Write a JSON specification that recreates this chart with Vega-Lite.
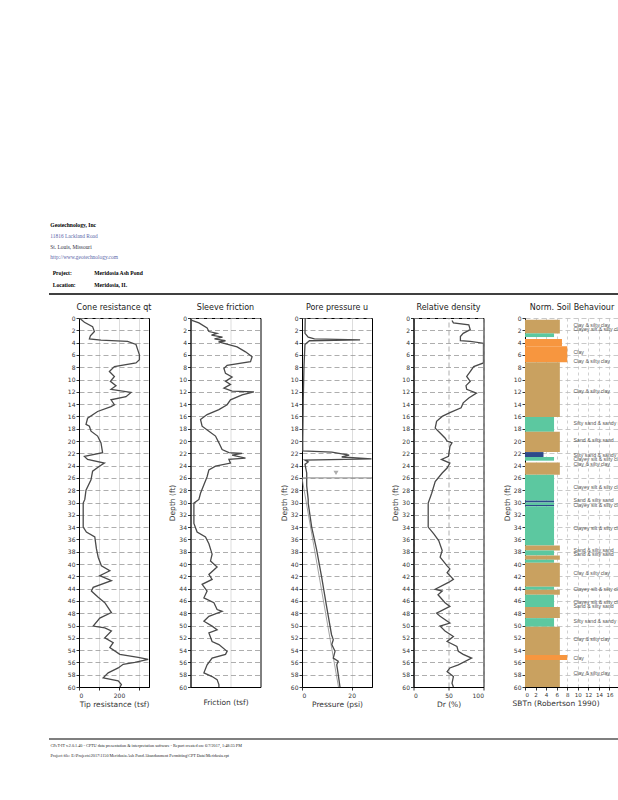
{
  "$schema": "https://vega.github.io/schema/vega-lite/v6.json",
  "padding": {"left": 48, "top": 220, "right": 0, "bottom": 0},
  "background": "white",
  "bounds": "flush",
  "spacing": 24,
  "resolve": {"scale": {"color": "independent"}},
  "datasets": {
    "header": [
      {"line": 0, "kind": "name", "text": "Geotechnology, Inc"},
      {"line": 1, "kind": "addr", "text": "11816 Lackland Road"},
      {"line": 2, "kind": "city", "text": "St. Louis, Missouri"},
      {"line": 3, "kind": "url", "text": "http://www.geotechnology.com"},
      {"line": 4.5, "kind": "field", "text": "Project:", "value": "Meridosia Ash Pond"},
      {"line": 5.6, "kind": "field", "text": "Location:", "value": "Meridosia, IL"}
    ],
    "footer": [
      {"line": 0, "text": "CPeT-IT v.2.0.1.40 - CPTU data presentation & interpretation software - Report created on: 6/7/2017, 1:48:35 PM"},
      {"line": 1, "text": "Project file: E:\\Projects\\2017\\1150 Meridosia Ash Pond Abandonment Permitting\\CPT Data\\Meridosia.cpt"}
    ],
    "qt": [
      {"d":0,"qt":2},{"d":0.7,"qt":27},{"d":1.4,"qt":68},{"d":2.2,"qt":77},{"d":2.9,"qt":57},{"d":3.4,"qt":52},{"d":3.6,"qt":110},{"d":3.8,"qt":243},{"d":4.3,"qt":285},{"d":5.1,"qt":293},{"d":6.0,"qt":302},{"d":6.8,"qt":302},{"d":7.3,"qt":285},{"d":7.9,"qt":177},{"d":8.7,"qt":152},{"d":9.5,"qt":177},{"d":10.3,"qt":157},{"d":11.0,"qt":185},{"d":11.6,"qt":160},{"d":12.1,"qt":260},{"d":12.8,"qt":235},{"d":13.3,"qt":160},{"d":14.1,"qt":177},{"d":14.4,"qt":160},{"d":15.2,"qt":93},{"d":16.3,"qt":43},{"d":17.3,"qt":35},{"d":17.6,"qt":52},{"d":18.4,"qt":60},{"d":19.2,"qt":93},{"d":20.3,"qt":110},{"d":21.9,"qt":118},{"d":22.5,"qt":27},{"d":23.0,"qt":43},{"d":23.6,"qt":127},{"d":24.1,"qt":102},{"d":24.9,"qt":68},{"d":26.3,"qt":60},{"d":28.0,"qt":35},{"d":29.5,"qt":29},{"d":30.1,"qt":21},{"d":34.0,"qt":21},{"d":34.8,"qt":37},{"d":35.6,"qt":79},{"d":37.5,"qt":87},{"d":38.9,"qt":96},{"d":40.3,"qt":112},{"d":41.1,"qt":154},{"d":41.9,"qt":104},{"d":42.7,"qt":162},{"d":43.8,"qt":71},{"d":44.4,"qt":62},{"d":45.4,"qt":96},{"d":46.3,"qt":129},{"d":47.9,"qt":162},{"d":48.8,"qt":104},{"d":50.1,"qt":71},{"d":50.4,"qt":129},{"d":50.9,"qt":162},{"d":52.0,"qt":129},{"d":52.8,"qt":171},{"d":53.6,"qt":154},{"d":54.7,"qt":204},{"d":55.2,"qt":296},{"d":55.5,"qt":346},{"d":56.0,"qt":279},{"d":56.3,"qt":221},{"d":56.9,"qt":196},{"d":57.7,"qt":146},{"d":58.5,"qt":121},{"d":59.0,"qt":196},{"d":59.6,"qt":212},{"d":60,"qt":205}
    ],
    "fs": [
      {"d":0.3,"fs":0},{"d":0.8,"fs":0.42},{"d":1.6,"fs":0.83},{"d":2.2,"fs":0.92},{"d":2.5,"fs":1.33},{"d":2.8,"fs":1.05},{"d":3.1,"fs":1.6},{"d":3.4,"fs":1.2},{"d":3.7,"fs":1.75},{"d":3.9,"fs":1.4},{"d":4.7,"fs":2.33},{"d":5.5,"fs":2.75},{"d":6.3,"fs":3.08},{"d":7.1,"fs":3.0},{"d":7.7,"fs":1.83},{"d":8.2,"fs":1.67},{"d":9.0,"fs":1.75},{"d":9.6,"fs":2.08},{"d":10.3,"fs":1.75},{"d":10.8,"fs":2.0},{"d":11.4,"fs":1.67},{"d":11.9,"fs":2.08},{"d":12.0,"fs":3.17},{"d":12.5,"fs":2.58},{"d":13.3,"fs":2.0},{"d":14.1,"fs":1.83},{"d":14.9,"fs":1.42},{"d":15.7,"fs":0.83},{"d":16.5,"fs":0.5},{"d":17.6,"fs":0.58},{"d":18.4,"fs":0.92},{"d":19.2,"fs":1.25},{"d":20.3,"fs":1.42},{"d":21.4,"fs":1.58},{"d":21.9,"fs":1.92},{"d":22.0,"fs":2.58},{"d":22.3,"fs":2.08},{"d":22.8,"fs":2.75},{"d":23.0,"fs":1.92},{"d":23.6,"fs":2.0},{"d":24.1,"fs":1.25},{"d":24.7,"fs":0.92},{"d":25.8,"fs":0.83},{"d":27.1,"fs":0.67},{"d":28.5,"fs":0.5},{"d":29.5,"fs":0.42},{"d":30.1,"fs":0.17},{"d":33.4,"fs":0.17},{"d":34.8,"fs":0.33},{"d":35.6,"fs":0.75},{"d":36.7,"fs":0.92},{"d":38.4,"fs":1.08},{"d":39.5,"fs":1.0},{"d":40.5,"fs":1.33},{"d":41.7,"fs":0.92},{"d":42.5,"fs":1.08},{"d":43.3,"fs":0.58},{"d":44.4,"fs":0.83},{"d":45.5,"fs":0.67},{"d":46.3,"fs":1.17},{"d":47.4,"fs":1.33},{"d":47.7,"fs":1.58},{"d":48.5,"fs":0.92},{"d":49.3,"fs":0.67},{"d":50.1,"fs":1.08},{"d":50.7,"fs":1.33},{"d":51.2,"fs":0.92},{"d":52.6,"fs":1.08},{"d":53.1,"fs":1.42},{"d":54.2,"fs":1.83},{"d":54.7,"fs":1.75},{"d":55.3,"fs":1.08},{"d":56.4,"fs":0.83},{"d":57.7,"fs":0.67},{"d":58.3,"fs":1.08},{"d":58.8,"fs":1.33},{"d":59.6,"fs":1.42},{"d":60,"fs":1.42}
    ],
    "u": [
      {"d":0,"u":1.3},{"d":2.5,"u":1.2},{"d":3.1,"u":2.5},{"d":3.4,"u":5},{"d":3.55,"u":23.4},{"d":3.7,"u":3},{"d":4.3,"u":1.2},{"d":7.9,"u":0.8},{"d":13.3,"u":0.5},{"d":19.8,"u":0.3},{"d":21.6,"u":0.3},{"d":21.8,"u":12},{"d":22.3,"u":19},{"d":22.6,"u":16},{"d":22.9,"u":28},{"d":23.1,"u":1.2},{"d":23.4,"u":2.5},{"d":23.8,"u":1.2},{"d":25.2,"u":1.9},{"d":27.3,"u":1.9},{"d":29.5,"u":2.5},{"d":30.1,"u":2.5},{"d":34,"u":3.9},{"d":37.7,"u":5.9},{"d":42.1,"u":7.9},{"d":46.9,"u":9.9},{"d":51.5,"u":11.9},{"d":52.3,"u":12.6},{"d":53.1,"u":12},{"d":54.2,"u":13.3},{"d":55.3,"u":12.6},{"d":55.8,"u":14.6},{"d":56.4,"u":14},{"d":58,"u":14.6},{"d":60,"u":15.3}
    ],
    "u0": [{"d":26,"u":0},{"d":60,"u":14.7}],
    "gwt": [{"d":26,"u":13.7}],
    "dr": [
      {"d":0.4,"dr":55},{"d":0.8,"dr":57},{"d":1.1,"dr":79},{"d":1.9,"dr":81},{"d":2.5,"dr":71},{"d":3.0,"dr":67},{"d":3.7,"dr":67},{"d":3.8,"dr":81},{"d":4.1,"dr":100},{"d":7.3,"dr":100},{"d":7.9,"dr":86},{"d":8.7,"dr":81},{"d":9.5,"dr":76},{"d":10.3,"dr":81},{"d":11.0,"dr":75},{"d":11.6,"dr":76},{"d":12.2,"dr":90},{"d":13.0,"dr":79},{"d":13.8,"dr":71},{"d":14.6,"dr":68},{"d":15.4,"dr":52},{"d":16.0,"dr":41},{"d":16.8,"dr":33},{"d":17.9,"dr":31},{"d":18.7,"dr":38},{"d":19.5,"dr":45},{"d":20.0,"dr":48},{"d":20.3,"dr":55},{"d":20.9,"dr":52},{"d":22.5,"dr":50},{"d":23.0,"dr":40},{"d":23.6,"dr":52},{"d":24.4,"dr":48},{"d":25.2,"dr":41},{"d":26.6,"dr":31},{"d":28.5,"dr":26},{"d":30.1,"dr":21},{"d":34.0,"dr":21},{"d":35.1,"dr":29},{"d":36.2,"dr":36},{"d":37.8,"dr":41},{"d":38.9,"dr":38},{"d":40.3,"dr":48},{"d":40.8,"dr":52},{"d":41.4,"dr":48},{"d":42.5,"dr":57},{"d":43.0,"dr":50},{"d":44.1,"dr":31},{"d":44.4,"dr":41},{"d":45.0,"dr":35},{"d":46.3,"dr":45},{"d":46.9,"dr":52},{"d":48.0,"dr":33},{"d":48.5,"dr":38},{"d":49.6,"dr":52},{"d":50.1,"dr":38},{"d":50.9,"dr":45},{"d":51.8,"dr":57},{"d":52.6,"dr":48},{"d":53.4,"dr":62},{"d":54.2,"dr":64},{"d":54.7,"dr":71},{"d":55.3,"dr":83},{"d":56.4,"dr":64},{"d":56.9,"dr":52},{"d":57.5,"dr":48},{"d":58.3,"dr":57},{"d":59.4,"dr":55},{"d":60,"dr":57}
    ],
    "sbt": [
      {"top":0.3,"bottom":2.5,"soil":"Clay & silty clay","len":6.6},
      {"top":2.5,"bottom":3.1,"soil":"Silty sand & sandy silt","len":5.5},
      {"top":3.4,"bottom":4.6,"soil":"Clay","len":7.0},
      {"top":4.6,"bottom":7.2,"soil":"Clay","len":8.0},
      {"top":7.2,"bottom":16.1,"soil":"Clay & silty clay","len":6.6},
      {"top":16.1,"bottom":18.5,"soil":"Silty sand & sandy silt","len":5.5},
      {"top":18.5,"bottom":21.8,"soil":"Clay & silty clay","len":6.6},
      {"top":21.8,"bottom":22.6,"soil":"Sand & silty sand","len":3.5},
      {"top":22.6,"bottom":23.2,"soil":"Silty sand & sandy silt","len":5.5},
      {"top":23.5,"bottom":25.5,"soil":"Clay & silty clay","len":6.6},
      {"top":25.5,"bottom":29.7,"soil":"Silty sand & sandy silt","len":5.5},
      {"top":29.7,"bottom":30.0,"soil":"Sand & silty sand","len":5.5},
      {"top":30.0,"bottom":30.4,"soil":"Silty sand & sandy silt","len":5.5},
      {"top":30.4,"bottom":30.6,"soil":"Sand & silty sand","len":5.5},
      {"top":30.6,"bottom":37.0,"soil":"Silty sand & sandy silt","len":5.5},
      {"top":37.0,"bottom":37.8,"soil":"Clay & silty clay","len":6.6},
      {"top":37.8,"bottom":38.6,"soil":"Silty sand & sandy silt","len":5.5},
      {"top":38.6,"bottom":39.3,"soil":"Clay & silty clay","len":6.6},
      {"top":39.3,"bottom":39.8,"soil":"Silty sand & sandy silt","len":5.5},
      {"top":39.8,"bottom":43.7,"soil":"Clay & silty clay","len":6.6},
      {"top":43.7,"bottom":44.2,"soil":"Silty sand & sandy silt","len":5.5},
      {"top":44.2,"bottom":45.0,"soil":"Clay & silty clay","len":6.6},
      {"top":45.0,"bottom":47.0,"soil":"Silty sand & sandy silt","len":5.5},
      {"top":47.0,"bottom":48.8,"soil":"Clay & silty clay","len":6.6},
      {"top":48.8,"bottom":50.2,"soil":"Silty sand & sandy silt","len":5.5},
      {"top":50.2,"bottom":54.8,"soil":"Clay & silty clay","len":6.6},
      {"top":54.8,"bottom":55.6,"soil":"Clay","len":8.0},
      {"top":55.6,"bottom":60,"soil":"Clay & silty clay","len":6.6}
    ],
    "sbtlab": [
      {"d":1.1,"label":"Clay & silty clay"},
      {"d":1.8,"label":"Clayey silt & silty clay"},
      {"d":5.6,"label":"Clay"},
      {"d":7.0,"label":"Clay & silty clay"},
      {"d":11.8,"label":"Clay & silty clay"},
      {"d":17.0,"label":"Silty sand & sandy silt"},
      {"d":19.9,"label":"Sand & silty sand"},
      {"d":22.3,"label":"Silty sand & sandy silt"},
      {"d":23.0,"label":"Clayey silt & silty clay"},
      {"d":23.8,"label":"Clay & silty clay"},
      {"d":27.4,"label":"Clayey silt & silty clay"},
      {"d":29.6,"label":"Sand & silty sand"},
      {"d":30.4,"label":"Clayey silt & silty clay"},
      {"d":34.2,"label":"Clayey silt & silty clay"},
      {"d":37.7,"label":"Sand & silty sand"},
      {"d":38.4,"label":"Sand & silty sand"},
      {"d":41.5,"label":"Clay & silty clay"},
      {"d":44.1,"label":"Clayey silt & silty clay"},
      {"d":46.1,"label":"Clayey silt & silty clay"},
      {"d":46.9,"label":"Sand & silty sand"},
      {"d":49.2,"label":"Silty sand & sandy silt"},
      {"d":52.2,"label":"Clay & silty clay"},
      {"d":55.3,"label":"Clay"},
      {"d":57.7,"label":"Clay & silty clay"}
    ]
  },
  "vconcat": [
    {
      "width": 540,
      "height": 74,
      "view": {"stroke": null},
      "data": {"name": "header"},
      "layer": [
        {
          "transform": [{"filter": "datum.kind == 'name'"}],
          "mark": {"type": "text", "align": "left", "baseline": "middle", "font": "Liberation Serif", "fontSize": 5.6, "fontWeight": "bold", "color": "#000"},
          "encoding": {
            "x": {"datum": -28.7, "type": "quantitative", "scale": {"domain": [0, 540], "nice": false, "zero": false}, "axis": null},
            "y": {"field": "line", "type": "quantitative", "scale": {"domain": [-0.5, 6.44], "reverse": true, "nice": false, "zero": false}, "axis": null},
            "text": {"field": "text"}
          }
        },
        {
          "transform": [{"filter": "datum.kind == 'addr' || datum.kind == 'url'"}],
          "mark": {"type": "text", "align": "left", "baseline": "middle", "font": "Liberation Serif", "fontSize": 5.4, "color": "#5a66a8"},
          "encoding": {
            "x": {"datum": -28.7, "type": "quantitative"},
            "y": {"field": "line", "type": "quantitative"},
            "text": {"field": "text"}
          }
        },
        {
          "transform": [{"filter": "datum.kind == 'city'"}],
          "mark": {"type": "text", "align": "left", "baseline": "middle", "font": "Liberation Serif", "fontSize": 5.4, "color": "#333344"},
          "encoding": {
            "x": {"datum": -28.7, "type": "quantitative"},
            "y": {"field": "line", "type": "quantitative"},
            "text": {"field": "text"}
          }
        },
        {
          "transform": [{"filter": "datum.kind == 'field'"}],
          "mark": {"type": "text", "align": "left", "baseline": "middle", "font": "Liberation Serif", "fontSize": 5.6, "fontWeight": "bold", "color": "#000"},
          "encoding": {
            "x": {"datum": -26.3, "type": "quantitative"},
            "y": {"field": "line", "type": "quantitative"},
            "text": {"field": "text"}
          }
        },
        {
          "transform": [{"filter": "datum.kind == 'field'"}],
          "mark": {"type": "text", "align": "left", "baseline": "middle", "font": "Liberation Serif", "fontSize": 5.6, "fontWeight": "bold", "color": "#000"},
          "encoding": {
            "x": {"datum": 15.3, "type": "quantitative"},
            "y": {"field": "line", "type": "quantitative"},
            "text": {"field": "value"}
          }
        },
        {
          "data": {"values": [{"rule": "header"}]},
          "mark": {"type": "rule", "color": "#000", "strokeWidth": 1.5},
          "encoding": {
            "x": {"datum": -30, "type": "quantitative"},
            "x2": {"datum": 540, "type": "quantitative"},
            "y": {"datum": 6.44, "type": "quantitative"}
          }
        }
      ]
    },
    {
      "bounds": "flush",
      "spacing": 41.5,
      "resolve": {"scale": {"color": "independent"}},
      "hconcat": [
        {
          "width": 70,
          "height": 369,
          "title": "Cone resistance qt",
          "data": {"name": "qt"},
          "mark": {"type": "line", "color": "#4a4a4a", "strokeWidth": 1.3, "clip": true},
          "encoding": {
            "x": {"field": "qt", "type": "quantitative", "scale": {"domain": [0, 350], "nice": false}, "axis": {"title": "Tip resistance (tsf)", "values": [0, 100, 200, 300], "labelExpr": "datum.value == 0 || datum.value == 200 ? datum.label : ''"}},
            "y": {"field": "d", "type": "quantitative", "scale": {"domain": [0, 60], "reverse": true, "nice": false}, "axis": {"title": null, "values": [0,2,4,6,8,10,12,14,16,18,20,22,24,26,28,30,32,34,36,38,40,42,44,46,48,50,52,54,56,58,60]}},
            "order": {"field": "d", "type": "quantitative"}
          }
        },
        {
          "width": 70,
          "height": 369,
          "title": "Sleeve friction",
          "data": {"name": "fs"},
          "mark": {"type": "line", "color": "#4a4a4a", "strokeWidth": 1.3, "clip": true},
          "encoding": {
            "x": {"field": "fs", "type": "quantitative", "scale": {"domain": [0, 3.5], "nice": false}, "axis": {"title": "Friction (tsf)", "labels": false, "ticks": false, "titlePadding": 11}},
            "y": {"field": "d", "type": "quantitative", "scale": {"domain": [0, 60], "reverse": true, "nice": false}, "axis": {"title": "Depth (ft)", "values": [0,2,4,6,8,10,12,14,16,18,20,22,24,26,28,30,32,34,36,38,40,42,44,46,48,50,52,54,56,58,60]}},
            "order": {"field": "d", "type": "quantitative"}
          }
        },
        {
          "width": 70,
          "height": 369,
          "title": "Pore pressure u",
          "encoding": {
            "y": {"field": "d", "type": "quantitative", "scale": {"domain": [0, 60], "reverse": true, "nice": false}, "axis": {"title": "Depth (ft)", "values": [0,2,4,6,8,10,12,14,16,18,20,22,24,26,28,30,32,34,36,38,40,42,44,46,48,50,52,54,56,58,60]}}
          },
          "layer": [
            {
              "data": {"name": "u0"},
              "mark": {"type": "line", "color": "#8a8a8a", "strokeWidth": 0.8, "clip": true},
              "encoding": {
                "x": {"field": "u", "type": "quantitative", "scale": {"domain": [0, 28.2], "nice": false}, "axis": {"title": "Pressure (psi)", "values": [0, 10, 20], "labelExpr": "datum.value == 10 ? '' : datum.label"}},
                "order": {"field": "d", "type": "quantitative"}
              }
            },
            {
              "data": {"name": "u"},
              "mark": {"type": "line", "color": "#4a4a4a", "strokeWidth": 1.3, "clip": true},
              "encoding": {
                "x": {"field": "u", "type": "quantitative"},
                "order": {"field": "d", "type": "quantitative"}
              }
            },
            {
              "data": {"name": "gwt"},
              "mark": {"type": "rule", "color": "#8a8a8a", "strokeWidth": 1},
              "encoding": {}
            },
            {
              "data": {"name": "gwt"},
              "mark": {"type": "point", "shape": "triangle-down", "filled": true, "color": "#8a8a8a", "size": 26, "yOffset": -5},
              "encoding": {
                "x": {"field": "u", "type": "quantitative"}
              }
            }
          ]
        },
        {
          "width": 70,
          "height": 369,
          "title": "Relative density",
          "data": {"name": "dr"},
          "mark": {"type": "line", "color": "#4a4a4a", "strokeWidth": 1.3, "clip": true},
          "encoding": {
            "x": {"field": "dr", "type": "quantitative", "scale": {"domain": [0, 100], "nice": false}, "axis": {"title": "Dr (%)", "values": [0, 50, 100], "grid": true, "gridDash": [5, 3], "gridColor": "#999", "gridWidth": 0.8}},
            "y": {"field": "d", "type": "quantitative", "scale": {"domain": [0, 60], "reverse": true, "nice": false}, "axis": {"title": "Depth (ft)", "values": [0,2,4,6,8,10,12,14,16,18,20,22,24,26,28,30,32,34,36,38,40,42,44,46,48,50,52,54,56,58,60]}},
            "order": {"field": "d", "type": "quantitative"}
          }
        },
        {
          "width": 94,
          "height": 369,
          "title": "Norm. Soil Behaviour",
          "view": {"stroke": null},
          "layer": [
            {
              "data": {"name": "sbt"},
              "mark": {"type": "rect"},
              "encoding": {
                "x": {"field": "len", "type": "quantitative", "scale": {"domain": [0, 17.8], "nice": false}, "axis": {"title": "SBTn (Robertson 1990)", "values": [0, 2, 4, 6, 8, 10, 12, 14, 16], "labelOverlap": false, "labelFontSize": 5.5, "grid": true, "gridDash": [3, 3], "gridColor": "#bbb", "gridWidth": 0.7, "domain": true, "titleAnchor": "start", "titleX": -13}},
                "x2": {"datum": 0, "type": "quantitative"},
                "y": {"field": "top", "type": "quantitative", "scale": {"domain": [0, 60], "reverse": true, "nice": false}, "axis": {"title": "Depth (ft)", "domain": true, "gridColor": "#bbb", "values": [0,2,4,6,8,10,12,14,16,18,20,22,24,26,28,30,32,34,36,38,40,42,44,46,48,50,52,54,56,58,60]}},
                "y2": {"field": "bottom"},
                "color": {"field": "soil", "type": "nominal", "scale": {"domain": ["Clay & silty clay", "Silty sand & sandy silt", "Clay", "Sand & silty sand"], "range": ["#C9A160", "#5CC8A0", "#F7963F", "#2E4A8A"]}, "legend": null}
              }
            },
            {
              "data": {"name": "sbtlab"},
              "mark": {"type": "text", "align": "left", "baseline": "middle", "font": "Liberation Sans", "fontSize": 5.2, "color": "#555", "clip": true},
              "encoding": {
                "x": {"datum": 9.2, "type": "quantitative", "axis": {"title": "SBTn (Robertson 1990)", "values": [0, 2, 4, 6, 8, 10, 12, 14, 16], "labelOverlap": false, "labelFontSize": 5.5, "grid": true, "gridDash": [3, 3], "gridColor": "#bbb", "gridWidth": 0.7, "domain": true, "titleAnchor": "start", "titleX": -13}},
                "y": {"field": "d", "type": "quantitative", "axis": {"title": "Depth (ft)", "domain": true, "gridColor": "#bbb", "values": [0,2,4,6,8,10,12,14,16,18,20,22,24,26,28,30,32,34,36,38,40,42,44,46,48,50,52,54,56,58,60]}},
                "text": {"field": "label"}
              }
            }
          ]
        }
      ]
    },
    {
      "width": 540,
      "height": 418,
      "view": {"stroke": null},
      "data": {"name": "footer"},
      "layer": [
        {
          "mark": {"type": "text", "align": "left", "baseline": "middle", "font": "Liberation Serif", "fontSize": 4.2, "color": "#222"},
          "encoding": {
            "x": {"datum": -28.5, "type": "quantitative", "scale": {"domain": [0, 540], "nice": false, "zero": false}, "axis": null},
            "y": {"field": "line", "type": "quantitative", "scale": {"domain": [-40.4, 1.4], "reverse": true, "nice": false, "zero": false}, "axis": null},
            "text": {"field": "text"}
          }
        },
        {
          "data": {"values": [{"rule": "footer"}]},
          "mark": {"type": "rule", "color": "#000", "strokeWidth": 1.2},
          "encoding": {
            "x": {"datum": -30, "type": "quantitative"},
            "x2": {"datum": 540, "type": "quantitative"},
            "y": {"datum": -0.7, "type": "quantitative"}
          }
        }
      ]
    }
  ],
  "config": {
    "font": "DejaVu Sans",
    "view": {"stroke": "#000", "strokeWidth": 1},
    "title": {"fontSize": 8, "fontWeight": "normal", "font": "DejaVu Sans", "offset": 3, "color": "#222"},
    "axis": {"labelFont": "DejaVu Sans", "titleFont": "DejaVu Sans", "labelFontSize": 6, "titleFontSize": 7.5, "titleFontWeight": "normal", "labelColor": "#333", "titleColor": "#333", "tickColor": "#333", "domainColor": "#000", "tickSize": 3},
    "axisY": {"grid": true, "gridDash": [5, 3], "gridColor": "#999", "gridWidth": 0.8, "labelPadding": 1, "titlePadding": 2},
    "axisX": {"labelPadding": 2, "titlePadding": 2}
  }
}
